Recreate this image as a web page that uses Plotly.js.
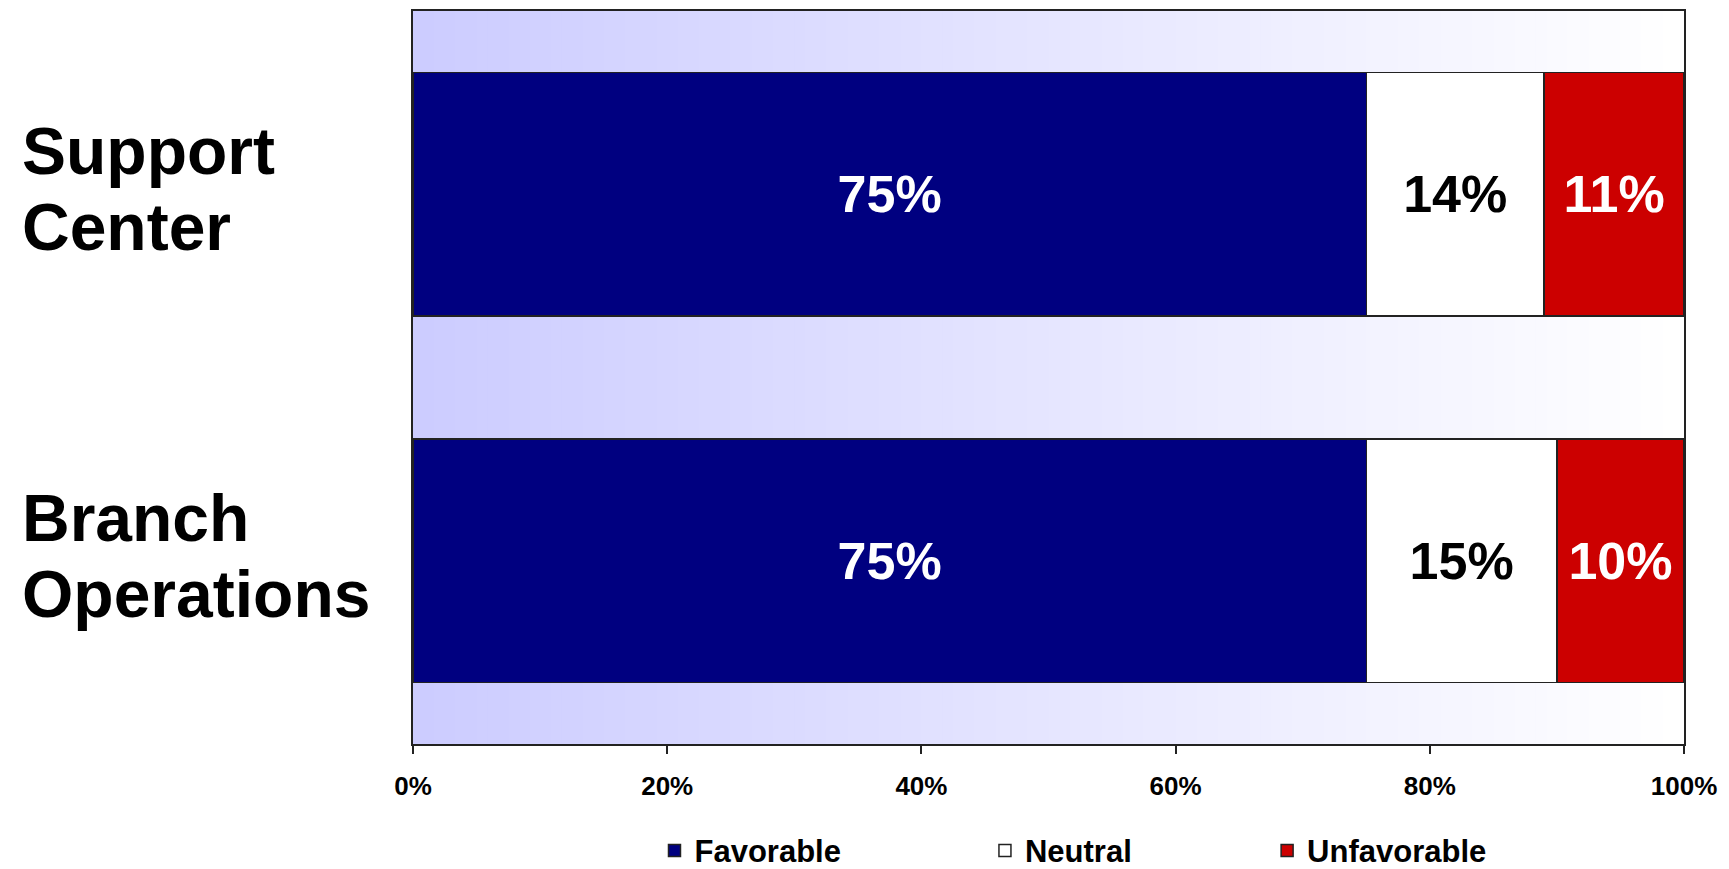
<!DOCTYPE html>
<html>
<head>
<meta charset="utf-8">
<script src="https://cdn.plot.ly/plotly-3.0.1.min.js"></script>
<style>html,body{margin:0;padding:0;background:#fff;}#chart{width:1729px;height:869px;}</style>
</head>
<body>
<div id="chart"></div>
<script>
// ---- data ----
const categories = ["Support Center", "Branch Operations"];
const favorable = [0.75, 0.75];
const neutral = [0.14, 0.15];
const unfavorable = [0.11, 0.10];
const seriesNames = ["Favorable", "Neutral", "Unfavorable"];
const tickVals = [0, 0.2, 0.4, 0.6, 0.8, 1.0];
const tickText = ["0%", "20%", "40%", "60%", "80%", "100%"];

// ---- style ----
const FONT = "Liberation Sans, Arial, Helvetica, sans-serif";
const colors = ["#000080", "#FFFFFF", "#CC0000"];
const textColors = ["#FFFFFF", "#000000", "#FFFFFF"];
const legendIds = ["legend", "legend2", "legend3"];
const legendX = [0.190, 0.450, 0.672];
const labelShifts = [43, -33]; // per-line vertical offsets (px) for category labels

const seriesValues = [favorable, neutral, unfavorable];
const pct = v => Math.round(v * 100) + "%";

const traces = seriesValues.map((vals, i) => ({
  type: "bar",
  orientation: "h",
  name: seriesNames[i],
  legend: legendIds[i],
  y: categories,
  x: vals,
  text: vals.map(pct),
  textposition: "inside",
  insidetextanchor: "middle",
  textangle: 0,
  constraintext: "none",
  textfont: {family: FONT, size: 52, weight: "bold", color: textColors[i]},
  marker: {color: colors[i], line: {color: "#222222", width: 1.5}},
  hoverinfo: "name+x"
}));

// gradient background (lavender -> white) as thin strips
const shapes = [];
const N = 120;
for (let k = 0; k < N; k++) {
  const t = k / (N - 1);
  const c = Math.round(204 + (255 - 204) * t);
  shapes.push({
    type: "rect", xref: "paper", yref: "paper", layer: "below",
    x0: k / N, x1: Math.min(1, (k + 1.6) / N), y0: 0, y1: 1,
    fillcolor: `rgb(${c},${c},255)`, line: {width: 0}
  });
}

// category labels: left-aligned, one annotation per line
const annotations = [];
categories.forEach((cat) => {
  cat.split(" ").forEach((word, li) => {
    annotations.push({
      xref: "paper", yref: "y", x: -393 / 1271, y: cat,
      xanchor: "left", yanchor: "middle", align: "left",
      text: word, showarrow: false,
      yshift: labelShifts[li],
      font: {family: FONT, size: 66, weight: "bold", color: "#000"}
    });
  });
});

const legendBase = {
  orientation: "h", xanchor: "left",
  yref: "container", y: 0.021, yanchor: "middle",
  font: {family: FONT, size: 31, weight: "bold", color: "#000"},
  bgcolor: "rgba(0,0,0,0)", borderwidth: 0
};

const layout = {
  width: 1729, height: 869,
  margin: {l: 413, r: 45, t: 11, b: 125, pad: 0, autoexpand: false},
  paper_bgcolor: "#FFFFFF",
  plot_bgcolor: "#FFFFFF",
  barmode: "stack",
  bargap: 0.336,
  font: {family: FONT, color: "#000"},
  showlegend: true,
  legend: Object.assign({}, legendBase, {x: legendX[0]}),
  legend2: Object.assign({}, legendBase, {x: legendX[1]}),
  legend3: Object.assign({}, legendBase, {x: legendX[2]}),
  xaxis: {
    range: [0, 1], tickvals: tickVals, ticktext: tickText,
    showgrid: false, zeroline: false,
    showline: true, mirror: true, linecolor: "#222222", linewidth: 2,
    ticks: "outside", ticklen: 8, tickwidth: 2, tickcolor: "#222222",
    ticklabelstandoff: 10,
    tickfont: {family: FONT, size: 26, weight: "bold", color: "#000"},
    fixedrange: true
  },
  yaxis: {
    type: "category", categoryorder: "array", categoryarray: categories,
    autorange: "reversed",
    showticklabels: false, ticks: "",
    showgrid: false, zeroline: false,
    showline: true, mirror: true, linecolor: "#222222", linewidth: 2,
    fixedrange: true
  },
  shapes: shapes,
  annotations: annotations
};

Plotly.newPlot("chart", traces, layout, {displayModeBar: false, staticPlot: true});
</script>
</body>
</html>
